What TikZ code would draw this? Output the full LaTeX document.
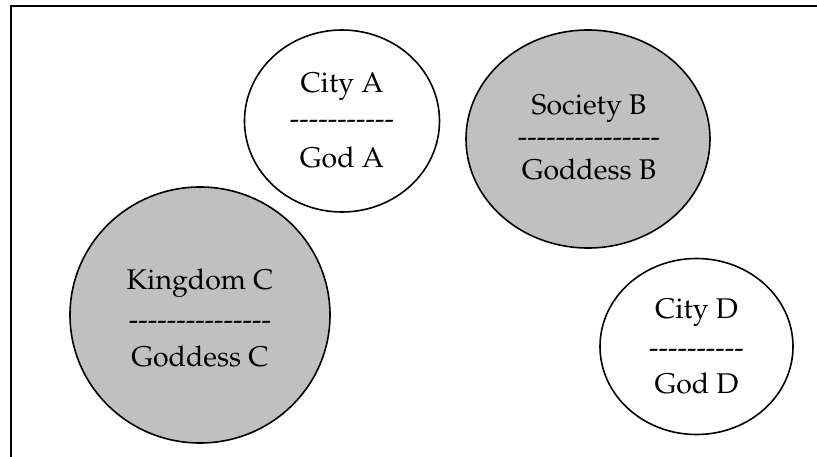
\documentclass[tikz,border=0pt]{standalone}
\usepackage[T1]{fontenc}
\usepackage{mathpazo}
\usetikzlibrary{shapes.geometric}
\newcommand\hy{{-}}
\tikzset{
  bubble/.style={ellipse, draw=black, line width=1.6pt, inner sep=0pt},
  whitebub/.style={bubble, fill=white},
  graybub/.style={bubble, fill=gray75},
  lbl/.style={anchor=base, inner sep=0pt, font=\fontsize{28.5}{34}\selectfont},
  frameline/.style={line width=2pt, draw=black}
}
\definecolor{gray75}{HTML}{C0C0C0}
\begin{document}
\begin{tikzpicture}[x=1pt,y=-1pt]
\useasboundingbox (0,0) rectangle (817,457);
\coordinate (f1) at (11,457);
\coordinate (f2) at (11,6);
\coordinate (f3) at (817,6);
\draw[frameline] (f1) -- (f2) -- (f3);

% City A
\node[whitebub, minimum width=195pt, minimum height=182pt] (A) at (342,121) {};
\node[lbl] (A1) at (342,93) {City A};
\node[lbl] (A2) at (342,129) {\hy\hy\hy\hy\hy\hy\hy\hy\hy\hy\hy};
\node[lbl] (A3) at (342,168) {God A};

% Society B
\node[graybub, minimum width=244pt, minimum height=218pt] (B) at (588,139) {};
\node[lbl] (B1) at (589,115) {Society B};
\node[lbl] (B2) at (589,147) {\hy\hy\hy\hy\hy\hy\hy\hy\hy\hy\hy\hy\hy\hy\hy};
\node[lbl] (B3) at (589,180) {Goddess B};

% Kingdom C
\node[graybub, minimum width=260pt, minimum height=256pt] (C) at (200,315) {};
\node[lbl] (C1) at (200,290) {Kingdom C};
\node[lbl] (C2) at (200,329) {\hy\hy\hy\hy\hy\hy\hy\hy\hy\hy\hy\hy\hy\hy\hy};
\node[lbl] (C3) at (200,366) {Goddess C};

% City D
\node[whitebub, minimum width=193pt, minimum height=176pt] (D) at (696.5,346.5) {};
\node[lbl] (D1) at (696.5,318) {City D};
\node[lbl] (D2) at (696.5,357) {\hy\hy\hy\hy\hy\hy\hy\hy\hy\hy};
\node[lbl] (D3) at (696.5,393) {God D};
\end{tikzpicture}
\end{document}
